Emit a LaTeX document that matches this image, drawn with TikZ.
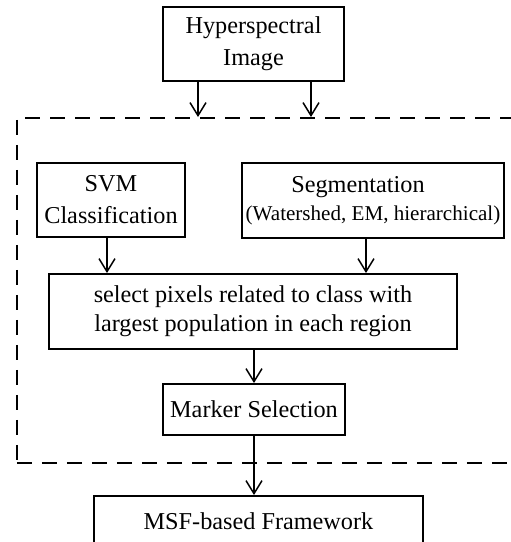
\documentclass[tikz,border=0pt]{standalone}
\usepackage{fontspec}
\setmainfont{Liberation Serif}
\usetikzlibrary{arrows.meta}
\tikzset{
  blk/.style={draw,line width=1.1pt,align=center,inner sep=2pt,font=\fontsize{13.8}{18.2}\selectfont},
  arr/.style={line width=0.85pt,-{Straight Barb[length=2.6mm,width=3.2mm]}},
}
\begin{document}
\begin{tikzpicture}[x=0.02cm,y=-0.02cm]
            \clip(0,0)rectangle(511,542);
            \useasboundingbox(0,0)rectangle(511,542);
            % outer dashed group
            \node[draw,line width=1.1pt,dash pattern=on 0.3cm off 0.2cm,minimum width=10.28cm,minimum height=6.9cm,anchor=north west,inner sep=0pt]at(16,117)(grp){};
            \node[blk,minimum width=3.62cm,minimum height=1.48cm]at(253.5,44)(hsi){Hyperspectral\\Image};
            \node[blk,minimum width=2.96cm,minimum height=1.48cm]at(111,200)(svm){SVM\\Classification};
            \node[blk,minimum width=5.24cm,minimum height=1.5cm]at(373,200.5)(seg){Segmentation\hspace*{0.6cm}\\[-2pt]{\fontsize{12}{13}\selectfont(Watershed, EM, hierarchical)}};
            \node[blk,minimum width=8.16cm,minimum height=1.5cm,font=\fontsize{13.8}{16.5}\selectfont]at(253,311.5)(sel){select pixels related to class with\\largest population in each region};
            \node[blk,minimum width=3.64cm,minimum height=1.02cm]at(254,409.5)(mrk){Marker Selection};
            \node[blk,minimum width=6.58cm,minimum height=1.0cm]at(258.5,521)(msf){MSF-based Framework};
            \coordinate(a1)at(198,117);
            \coordinate(a2)at(311,117);
            \draw[arr](hsi.south -| a1)--(a1);
            \draw[arr](hsi.south -| a2)--(a2);
            \draw[arr]([xshift=-0.08cm]svm.south)--([xshift=-0.08cm]svm.south |- sel.north);
            \draw[arr]([xshift=-0.14cm]seg.south)--([xshift=-0.14cm]seg.south |- sel.north);
            \draw[arr](sel.south -| mrk.north)--(mrk.north);
            \draw[arr](mrk.south)--(mrk.south |- msf.north);
        \end{tikzpicture}
\end{document}
